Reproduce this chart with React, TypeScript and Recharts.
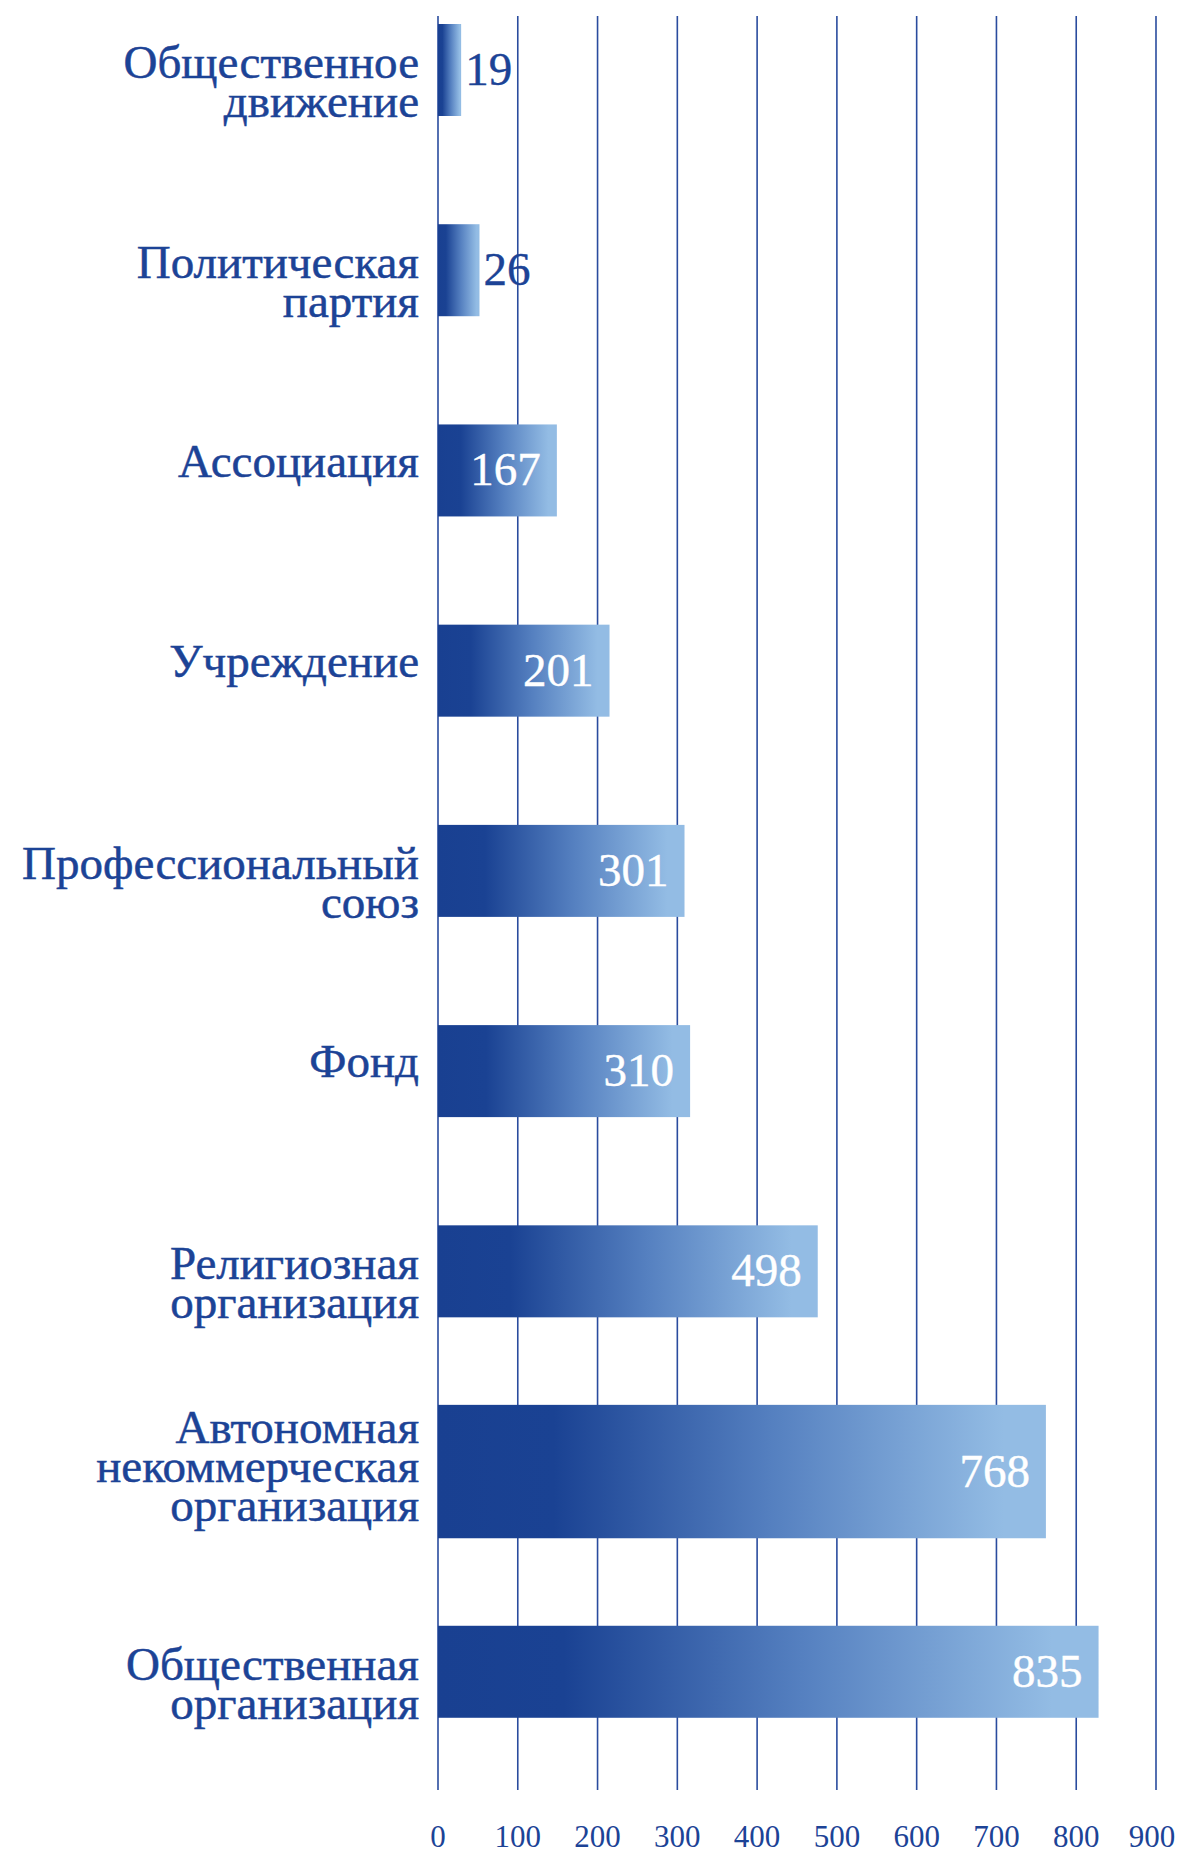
import React from 'react';
import { BarChart, Bar, XAxis, YAxis, CartesianGrid, LabelList } from 'recharts';

// Categories (line breaks as in the picture)
const categories = [
  'Общественное\nдвижение',
  'Политическая\nпартия',
  'Ассоциация',
  'Учреждение',
  'Профессиональный\nсоюз',
  'Фонд',
  'Религиозная\nорганизация',
  'Автономная\nнекоммерческая\nорганизация',
  'Общественная\nорганизация',
];

// Bar lengths as drawn in the picture (read against the 0–900 scale)
const barValues = [29, 52, 149, 215, 309, 316, 476, 762, 828];

// Numbers printed on the bars
const valueLabels = [19, 26, 167, 201, 301, 310, 498, 768, 835];

// X-axis tick values
const xTicks = [0, 100, 200, 300, 400, 500, 600, 700, 800, 900];

const data = categories.map((name, i) => ({
  name,
  value: barValues[i],
  label: valueLabels[i],
}));

const TEXT = '#1c4396';
const GRID = '#2a4c9e';
const FONT = '"Liberation Serif", "Times New Roman", serif';

const CategoryTick = (props: any) => {
  const { x, y, payload } = props;
  const lines = String(payload.value).split('\n');
  const shift = lines.length === 1 ? 6 : lines.length === 2 ? 8 : -29;
  return (
    <text
      x={x}
      y={y + shift}
      textAnchor="end"
      fill={TEXT}
      stroke={TEXT}
      strokeWidth={0.5}
      fontFamily={FONT}
      fontSize={47}
    >
      {lines.map((l, i) => (
        <tspan key={i} x={x} dy={i === 0 ? 0 : 39}>
          {l}
        </tspan>
      ))}
    </text>
  );
};

const ValueTick = (props: any) => {
  const { x, y, payload } = props;
  return (
    <text x={Math.min(x, 1152)} y={y + 22} textAnchor="middle" fill={TEXT} fontFamily={FONT} fontSize={31}>
      {payload.value}
    </text>
  );
};

const BarShape = (props: any) => {
  const { x, y, width, height, payload } = props;
  const lines = String(payload?.name ?? '').split('\n').length;
  const h = lines >= 3 ? height * 1.45 : height;
  const cy = y + height / 2;
  return <rect x={x} y={cy - h / 2} width={width} height={h} fill="url(#barGrad)" />;
};

const ValueLabel = (props: any) => {
  const vb = props.viewBox || {};
  const x = props.x ?? vb.x;
  const y = props.y ?? vb.y;
  const width = props.width ?? vb.width;
  const height = props.height ?? vb.height;
  const cy = y + height / 2;
  const inside = width > 60;
  const color = inside ? '#ffffff' : TEXT;
  return (
    <text
      x={inside ? x + width - 16 : x + width + 4}
      y={cy + 15}
      textAnchor={inside ? 'end' : 'start'}
      fill={color}
      stroke={color}
      strokeWidth={0.4}
      fontSize={47}
      fontFamily={FONT}
    >
      {props.value}
    </text>
  );
};

export default function App() {
  return (
    <div style={{ position: 'absolute', left: 0, top: 0, width: 1179, height: 1857, background: '#fff' }}>
      <BarChart
        width={1179}
        height={1857}
        data={data}
        layout="vertical"
        margin={{ top: 16, right: 23, bottom: 0, left: 0 }}
      >
        <defs>
          <linearGradient id="barGrad" x1="0" y1="0" x2="1" y2="0">
            <stop offset="0" stopColor="#194091" />
            <stop offset="0.19" stopColor="#1a4293" />
            <stop offset="0.55" stopColor="#5580c0" />
            <stop offset="0.93" stopColor="#93bce4" />
            <stop offset="1" stopColor="#93bce4" />
          </linearGradient>
        </defs>
        <CartesianGrid horizontal={false} vertical stroke={GRID} strokeWidth={1.6} />
        <XAxis
          type="number"
          domain={[0, 900]}
          ticks={xTicks}
          axisLine={false}
          tickLine={false}
          tickSize={0}
          tickMargin={35}
          height={67}
          interval={0}
          tick={<ValueTick />}
        />
        <YAxis
          type="category"
          dataKey="name"
          width={438}
          axisLine={false}
          tickLine={false}
          tickSize={0}
          tickMargin={19}
          interval={0}
          padding={{ top: -46, bottom: 18 }}
          tick={<CategoryTick />}
        />
        <Bar dataKey="value" barSize={92} isAnimationActive={false} shape={<BarShape />}>
          <LabelList dataKey="label" content={<ValueLabel />} />
        </Bar>
      </BarChart>
    </div>
  );
}
